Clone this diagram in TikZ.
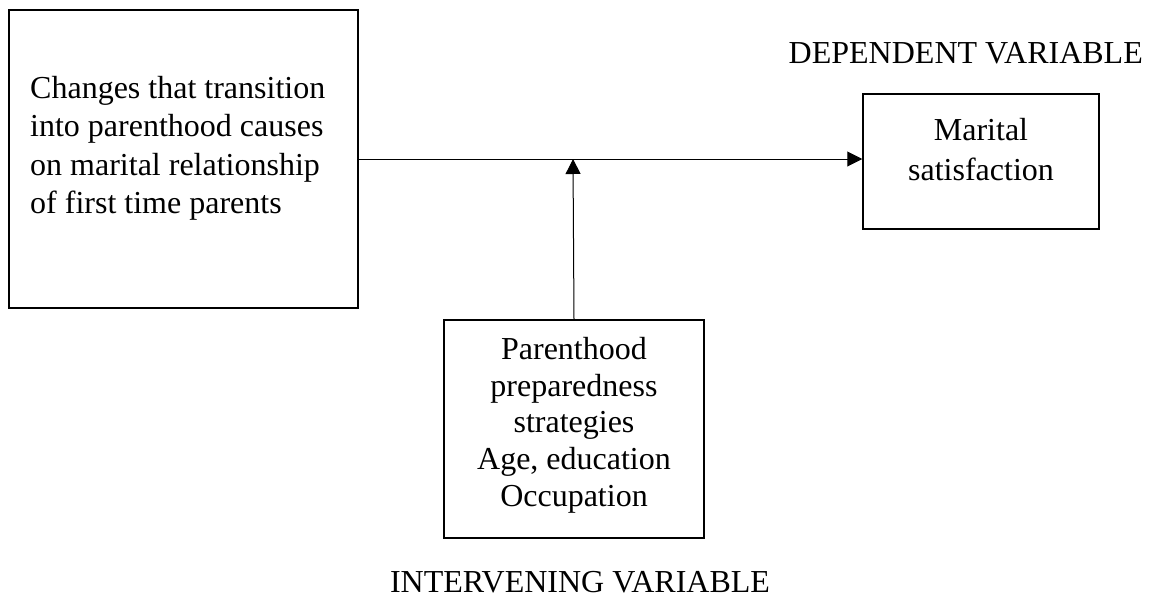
\documentclass[tikz,border=0pt]{standalone}
\usepackage{fontspec}
\setmainfont{Liberation Serif}
\usetikzlibrary{arrows.meta}
\begin{document}
\begin{tikzpicture}[x=1pt,y=-1pt,
  box/.style={draw,line width=1.5pt,inner sep=0pt},
  lbl/.style={font=\fontsize{32}{38.5}\selectfont,inner sep=0pt},
  conn/.style={line width=1pt,-{Triangle[length=15pt,width=15pt]}}]
\useasboundingbox (0,0) rectangle (1152,597);
\node[box,minimum width=349pt,minimum height=298pt] (cause) at (183.5,159) {};
\node[box,minimum width=236pt,minimum height=135pt] (dep) at (981,161.5) {};
\node[box,minimum width=260pt,minimum height=218pt] (int) at (574,429) {};
\node[lbl,align=left,anchor=north west] (causetxt) at (30,76) {Changes that transition\\into parenthood causes\\on marital relationship\\of first time parents};
\node[lbl,align=center,anchor=north,font=\fontsize{32}{40}\selectfont] (deptxt) at (981,118) {Marital\\satisfaction};
\node[lbl,align=center,anchor=north,font=\fontsize{32}{36.75}\selectfont] (inttxt) at (574,337) {Parenthood\\preparedness\\strategies\\Age, education\\Occupation};
\node[lbl,anchor=base east] (deplbl) at (1143,63) {DEPENDENT VARIABLE};
\node[lbl,anchor=base] (intlbl) at (580,592) {INTERVENING VARIABLE};
\coordinate (meet) at (573,159);
\draw[conn] (cause.east) -- (cause.east -| dep.west);
\draw[conn] (int.north) -- (meet);
\end{tikzpicture}
\end{document}
